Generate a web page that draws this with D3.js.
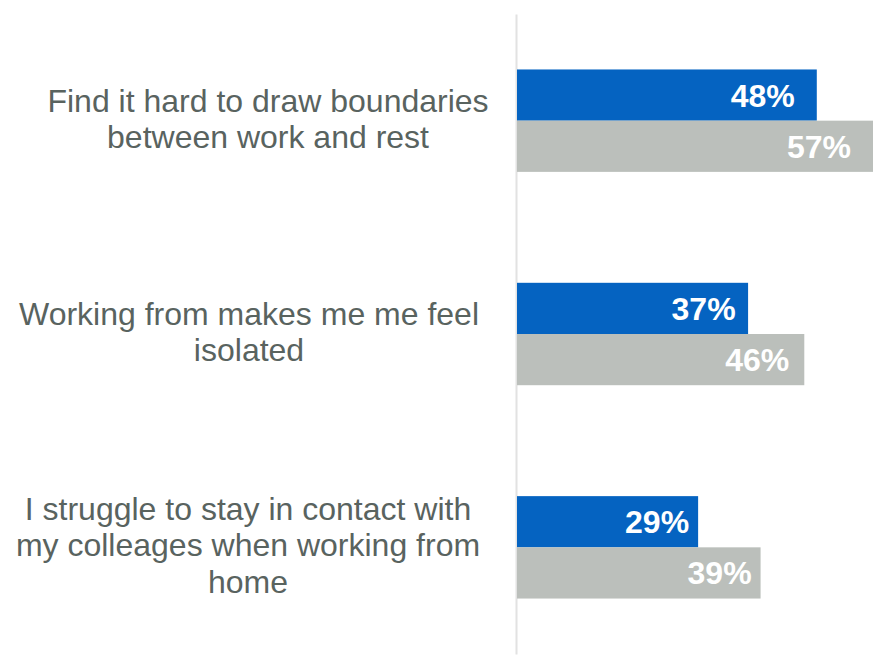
<!DOCTYPE html>
<html>
<head>
<meta charset="utf-8">
<script src="https://cdn.jsdelivr.net/npm/d3@7"></script>
<style>
  html, body { margin: 0; padding: 0; background: #ffffff; }
  svg { display: block; font-family: Arial, "Liberation Sans", sans-serif; }
</style>
</head>
<body>
<svg id="chart" width="876" height="659"></svg>
<script>
// Survey statements (each entry is a list of wrapped lines)
const categories = [
  ["Find it hard to draw boundaries", "between work and rest"],
  ["Working from makes me me feel", "isolated"],
  ["I struggle to stay in contact with", "my colleages when working from", "home"]
];
const seriesNames = ["Group A", "Group B"];
const seriesA = [48, 37, 29];
const seriesB = [57, 46, 39];
const seriesColors = ["#0563c1", "#bbbfbb"];

const svg = d3.select("#chart");

const keys = categories.map((c, i) => "c" + i);

const x = d3.scaleLinear().domain([0, 57]).range([517, 873]);

const y = d3.scaleBand()
  .domain(keys)
  .range([14, 654])
  .paddingInner(0.52)
  .paddingOuter(0.26);

const ySeries = d3.scaleBand()
  .domain(seriesNames)
  .range([0, y.bandwidth()]);

// vertical category axis line
const axis = d3.axisLeft(y).tickSize(0).tickFormat("");
const axisG = svg.append("g")
  .attr("transform", `translate(${x(0) - 1},0)`)
  .call(axis);
axisG.select(".domain").attr("stroke", "#e2e2e2").attr("stroke-width", 2);

const rows = keys.map((k, i) => ({ key: k, lines: categories[i], values: [seriesA[i], seriesB[i]] }));

// inset of each value label from its bar end
const valueInset = [[22, 22], [12.5, 15], [9, 9]];

const groups = svg.append("g").selectAll("g")
  .data(rows)
  .join("g")
  .attr("transform", d => `translate(0,${y(d.key)})`);

groups.selectAll("rect")
  .data((d, i) => d.values.map((v, j) => ({ v, s: seriesNames[j], j, i })))
  .join("rect")
  .attr("x", x(0))
  .attr("y", d => ySeries(d.s))
  .attr("width", d => x(d.v) - x(0))
  .attr("height", ySeries.bandwidth())
  .attr("fill", d => seriesColors[d.j]);

groups.selectAll("text.val")
  .data((d, i) => d.values.map((v, j) => ({ v, s: seriesNames[j], j, i })))
  .join("text")
  .attr("class", "val")
  .attr("x", d => x(d.v) - valueInset[d.i][d.j])
  .attr("y", d => ySeries(d.s) + ySeries.bandwidth() / 2 + 11.5)
  .attr("text-anchor", "end")
  .attr("fill", "#ffffff")
  .attr("font-weight", "bold")
  .attr("font-size", 32)
  .text(d => d.v + "%");

// category labels, centred beside each pair of bars
const labelCenterX = [268, 249, 248];
const lineH = 36.3;
svg.append("g").selectAll("text")
  .data(rows)
  .join("text")
  .attr("text-anchor", "middle")
  .attr("fill", "#59635f")
  .attr("font-size", 32)
  .attr("transform", (d, i) => `translate(${labelCenterX[i]},${y(d.key) + y.bandwidth() / 2})`)
  .each(function(d) {
    const n = d.lines.length;
    d3.select(this).selectAll("tspan")
      .data(d.lines)
      .join("tspan")
      .attr("x", 0)
      .attr("y", (l, k) => (k - (n - 1) / 2) * lineH + 9)
      .text(l => l);
  });
</script>
</body>
</html>
